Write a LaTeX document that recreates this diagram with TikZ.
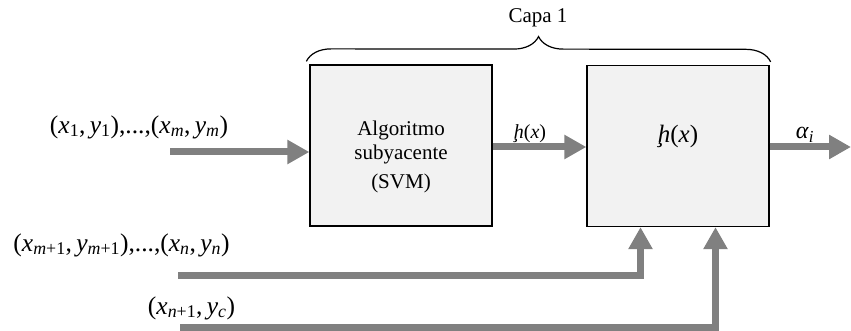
\documentclass[tikz,border=0pt]{standalone}
\usepackage{fontspec}
\setmainfont{Liberation Serif}
\usetikzlibrary{positioning, arrows.meta, calc, decorations.pathreplacing}

\definecolor{cajagris}{HTML}{F2F2F2}
\definecolor{flechagris}{HTML}{808080}

% variables con subindice
\newcommand{\vx}[1]{\textit{x}\textsubscript{#1}}
\newcommand{\vy}[1]{\textit{y}\textsubscript{#1}}

\begin{document}
\begin{tikzpicture}[x=1pt, y=-1pt,
  bloque/.style={draw, line width=1.3pt, fill=cajagris, minimum width=182pt, minimum height=161pt, inner sep=0pt},
  flecha/.style={draw=flechagris, line width=7pt, -{Triangle[length=22pt,width=23pt]}},
  etq/.style={font=\fontsize{25.5}{30}\selectfont, inner sep=0pt},
  txt/.style={font=\fontsize{21}{24}\selectfont, inner sep=0pt, align=center}]
  \useasboundingbox (0,0) rectangle (851,331);

  % bloques
  \node[bloque] (alg) at (401,145.5) {};
  \node[txt] (algtxt) at (401,157) {Algoritmo\\subyacente\\[5pt](SVM)};
  \node[bloque] (hbox) at (678,146) {};
  \node[etq, font=\fontsize{25}{29}\selectfont] (htxt) at (678,136) {\textit{ḩ}(\textit{x})};

  % llave de la capa
  \draw[decorate, decoration={brace, amplitude=25pt}, line width=1.2pt]
    ($(alg.north west)+(-3,-3)$) -- ($(hbox.north east)+(1,-3)$);
  \node[txt] (capa) at (538,18) {Capa 1};

  % entradas y salidas
  \coordinate (in1) at (170,152);
  \coordinate (in2) at (178,275);
  \coordinate (in3) at (180,327);
  \coordinate (out) at (851,147);

  \node[etq] (d1) at (139,127) {(\vx{1},\,\vy{1}),...,(\vx{\textit{m}},\,\vy{\textit{m}})};
  \node[etq] (d2) at (121.5,245) {(\vx{\textit{m}+1},\,\vy{\textit{m}+1}),...,(\vx{\textit{n}},\,\vy{\textit{n}})};
  \node[etq] (d3) at (191.5,308) {(\vx{\textit{n}+1},\,\vy{\textit{c}})};
  \node[etq, font=\fontsize{20}{24}\selectfont] (hlab) at (530,134) {\textit{ḩ}(\textit{x})};
  \node[etq, font=\fontsize{24}{28}\selectfont] (alfa) at (805,135) {\textit{α}\textsubscript{\textit{i}}};

  \draw[flecha] (in1) -- (in1 -| alg.west);
  \draw[flecha] (alg.east |- out) -- (hbox.west |- out);
  \draw[flecha] (hbox.east |- out) -- (out);
  \draw[flecha] (in2) -| ($(hbox.south)+(-37.5,0)$);
  \draw[flecha] (in3) -| ($(hbox.south)+(37.5,0)$);
\end{tikzpicture}
\end{document}
